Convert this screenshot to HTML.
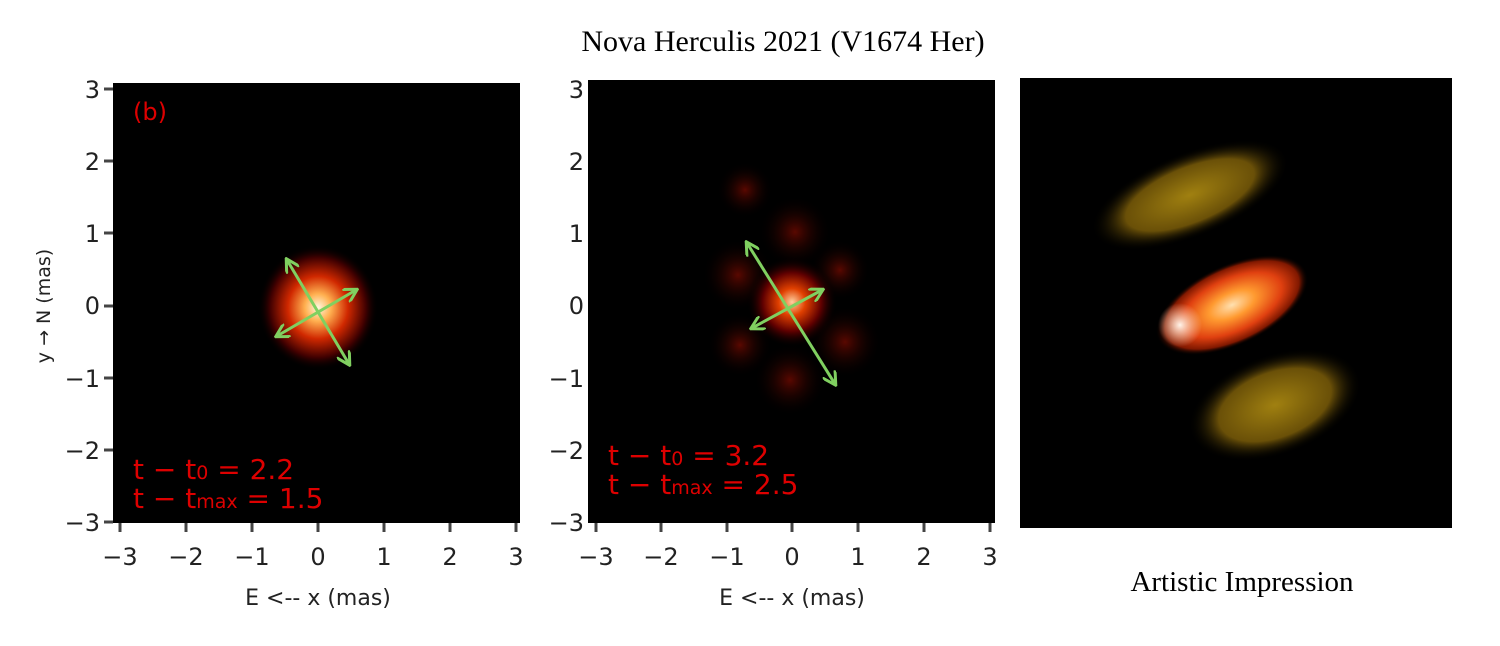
<!DOCTYPE html>
<html><head><meta charset="utf-8"><style>
html,body{margin:0;padding:0;background:#fff;width:1500px;height:646px;overflow:hidden}
</style></head><body>
<svg width="1500" height="646" viewBox="0 0 1500 646" xmlns="http://www.w3.org/2000/svg">
<defs>
<radialGradient id="b1"><stop offset="0" stop-color="#fff8e0"/><stop offset="0.22" stop-color="#ffb050"/><stop offset="0.5" stop-color="#d02800"/><stop offset="0.8" stop-color="#400000"/><stop offset="1" stop-color="#000" stop-opacity="0"/></radialGradient>
<radialGradient id="b2"><stop offset="0" stop-color="#ffd0a0"/><stop offset="0.3" stop-color="#e04000"/><stop offset="0.65" stop-color="#600000"/><stop offset="1" stop-color="#000" stop-opacity="0"/></radialGradient>
<radialGradient id="lobe"><stop offset="0" stop-color="#5a0800"/><stop offset="1" stop-color="#000" stop-opacity="0"/></radialGradient>
<radialGradient id="core"><stop offset="0" stop-color="#ffe0b0"/><stop offset="0.3" stop-color="#ff9a30"/><stop offset="0.65" stop-color="#e04010"/><stop offset="0.88" stop-color="#801800"/><stop offset="1" stop-color="#000" stop-opacity="0"/></radialGradient>
<radialGradient id="yel"><stop offset="0" stop-color="#a08010"/><stop offset="0.65" stop-color="#6a5008"/><stop offset="1" stop-color="#000" stop-opacity="0"/></radialGradient>
<radialGradient id="glow"><stop offset="0" stop-color="#fff4ea"/><stop offset="1" stop-color="#ffe0c0" stop-opacity="0"/></radialGradient>
<marker id="ah" viewBox="0 0 10 10" refX="8" refY="5" markerWidth="5" markerHeight="5" orient="auto-start-reverse"><path d="M0,0 L9,5 L0,10" fill="none" stroke="#80d060" stroke-width="2"/></marker>
</defs>
<text x="783" y="51" font-family="Liberation Serif,serif" font-size="30" text-anchor="middle">Nova Herculis 2021 (V1674 Her)</text>

<!-- panel 1 -->
<rect x="113" y="83" width="407" height="440" fill="#000"/>
<rect x="258" y="245" width="120" height="125" rx="45" fill="url(#b1)"/>
<g stroke="#80d060" stroke-width="3" marker-start="url(#ah)" marker-end="url(#ah)">
<line x1="287" y1="260" x2="349" y2="364"/><line x1="277" y1="336" x2="356" y2="290"/></g>
<text x="133" y="120" fill="#d00" font-family="DejaVu Sans,sans-serif" font-size="24">(b)</text>
<text x="133" y="479" fill="#d00" font-family="DejaVu Sans,sans-serif" font-size="28">t − t<tspan font-size="19">0</tspan> = 2.2</text>
<text x="133" y="508" fill="#d00" font-family="DejaVu Sans,sans-serif" font-size="28">t − t<tspan font-size="19">max</tspan> = 1.5</text>

<!-- panel 2 -->
<rect x="588" y="80" width="407" height="443" fill="#000"/>
<g fill="url(#lobe)">
<circle cx="795" cy="232" r="36"/><circle cx="738" cy="275" r="36"/><circle cx="845" cy="342" r="36"/><circle cx="790" cy="380" r="36"/><circle cx="740" cy="345" r="32"/><circle cx="840" cy="270" r="30"/><circle cx="745" cy="190" r="28"/>
</g>
<circle cx="792" cy="302" r="45" fill="url(#b2)"/>
<g stroke="#80d060" stroke-width="3" marker-start="url(#ah)" marker-end="url(#ah)">
<line x1="747" y1="243" x2="835" y2="384"/><line x1="752" y1="328" x2="822" y2="290"/></g>
<text x="608" y="465" fill="#d00" font-family="DejaVu Sans,sans-serif" font-size="28">t − t<tspan font-size="19">0</tspan> = 3.2</text>
<text x="608" y="494" fill="#d00" font-family="DejaVu Sans,sans-serif" font-size="28">t − t<tspan font-size="19">max</tspan> = 2.5</text>

<!-- axes ticks -->
<g font-family="DejaVu Sans,sans-serif" font-size="24" fill="#222" text-anchor="middle">
<text x="120" y="565">−3</text><text x="186" y="565">−2</text><text x="252" y="565">−1</text><text x="318" y="565">0</text><text x="384" y="565">1</text><text x="450" y="565">2</text><text x="516" y="565">3</text>
<text x="596" y="565">−3</text><text x="661" y="565">−2</text><text x="727" y="565">−1</text><text x="792" y="565">0</text><text x="858" y="565">1</text><text x="924" y="565">2</text><text x="990" y="565">3</text>
<text x="318" y="605" font-size="22">E &lt;-- x (mas)</text><text x="792" y="605" font-size="22">E &lt;-- x (mas)</text>
</g>
<g font-family="DejaVu Sans,sans-serif" font-size="24" fill="#222" text-anchor="end">
<text x="100" y="98">3</text><text x="100" y="170">2</text><text x="100" y="242">1</text><text x="100" y="314">0</text><text x="100" y="387">−1</text><text x="100" y="459">−2</text><text x="100" y="531">−3</text>
<text x="584" y="98">3</text><text x="584" y="170">2</text><text x="584" y="242">1</text><text x="584" y="314">0</text><text x="584" y="387">−1</text><text x="584" y="459">−2</text><text x="584" y="531">−3</text>
</g>
<text transform="translate(50,306) rotate(-90)" font-family="DejaVu Sans,sans-serif" font-size="19" fill="#222" text-anchor="middle">y → N (mas)</text>
<g stroke="#444" stroke-width="3">
<line x1="104" y1="89" x2="113" y2="89"/><line x1="104" y1="161" x2="113" y2="161"/><line x1="104" y1="233" x2="113" y2="233"/><line x1="104" y1="306" x2="113" y2="306"/><line x1="104" y1="378" x2="113" y2="378"/><line x1="104" y1="450" x2="113" y2="450"/><line x1="104" y1="522" x2="113" y2="522"/>
<line x1="120" y1="523" x2="120" y2="532"/><line x1="186" y1="523" x2="186" y2="532"/><line x1="252" y1="523" x2="252" y2="532"/><line x1="318" y1="523" x2="318" y2="532"/><line x1="384" y1="523" x2="384" y2="532"/><line x1="450" y1="523" x2="450" y2="532"/><line x1="516" y1="523" x2="516" y2="532"/>
<line x1="596" y1="523" x2="596" y2="532"/><line x1="661" y1="523" x2="661" y2="532"/><line x1="727" y1="523" x2="727" y2="532"/><line x1="792" y1="523" x2="792" y2="532"/><line x1="858" y1="523" x2="858" y2="532"/><line x1="924" y1="523" x2="924" y2="532"/><line x1="990" y1="523" x2="990" y2="532"/>
</g>

<!-- panel 3 -->
<rect x="1020" y="78" width="432" height="450" fill="#000"/>
<ellipse cx="1190" cy="195" rx="105" ry="42" transform="rotate(-22 1190 195)" fill="url(#yel)"/>
<ellipse cx="1275" cy="405" rx="90" ry="50" transform="rotate(-20 1275 405)" fill="url(#yel)"/>
<ellipse cx="1232" cy="305" rx="82" ry="40" transform="rotate(-25 1232 305)" fill="url(#core)"/>
<circle cx="1180" cy="325" r="22" fill="url(#glow)"/>
<text x="1242" y="591" font-family="Liberation Serif,serif" font-size="29" text-anchor="middle">Artistic Impression</text>
</svg>
</body></html>
